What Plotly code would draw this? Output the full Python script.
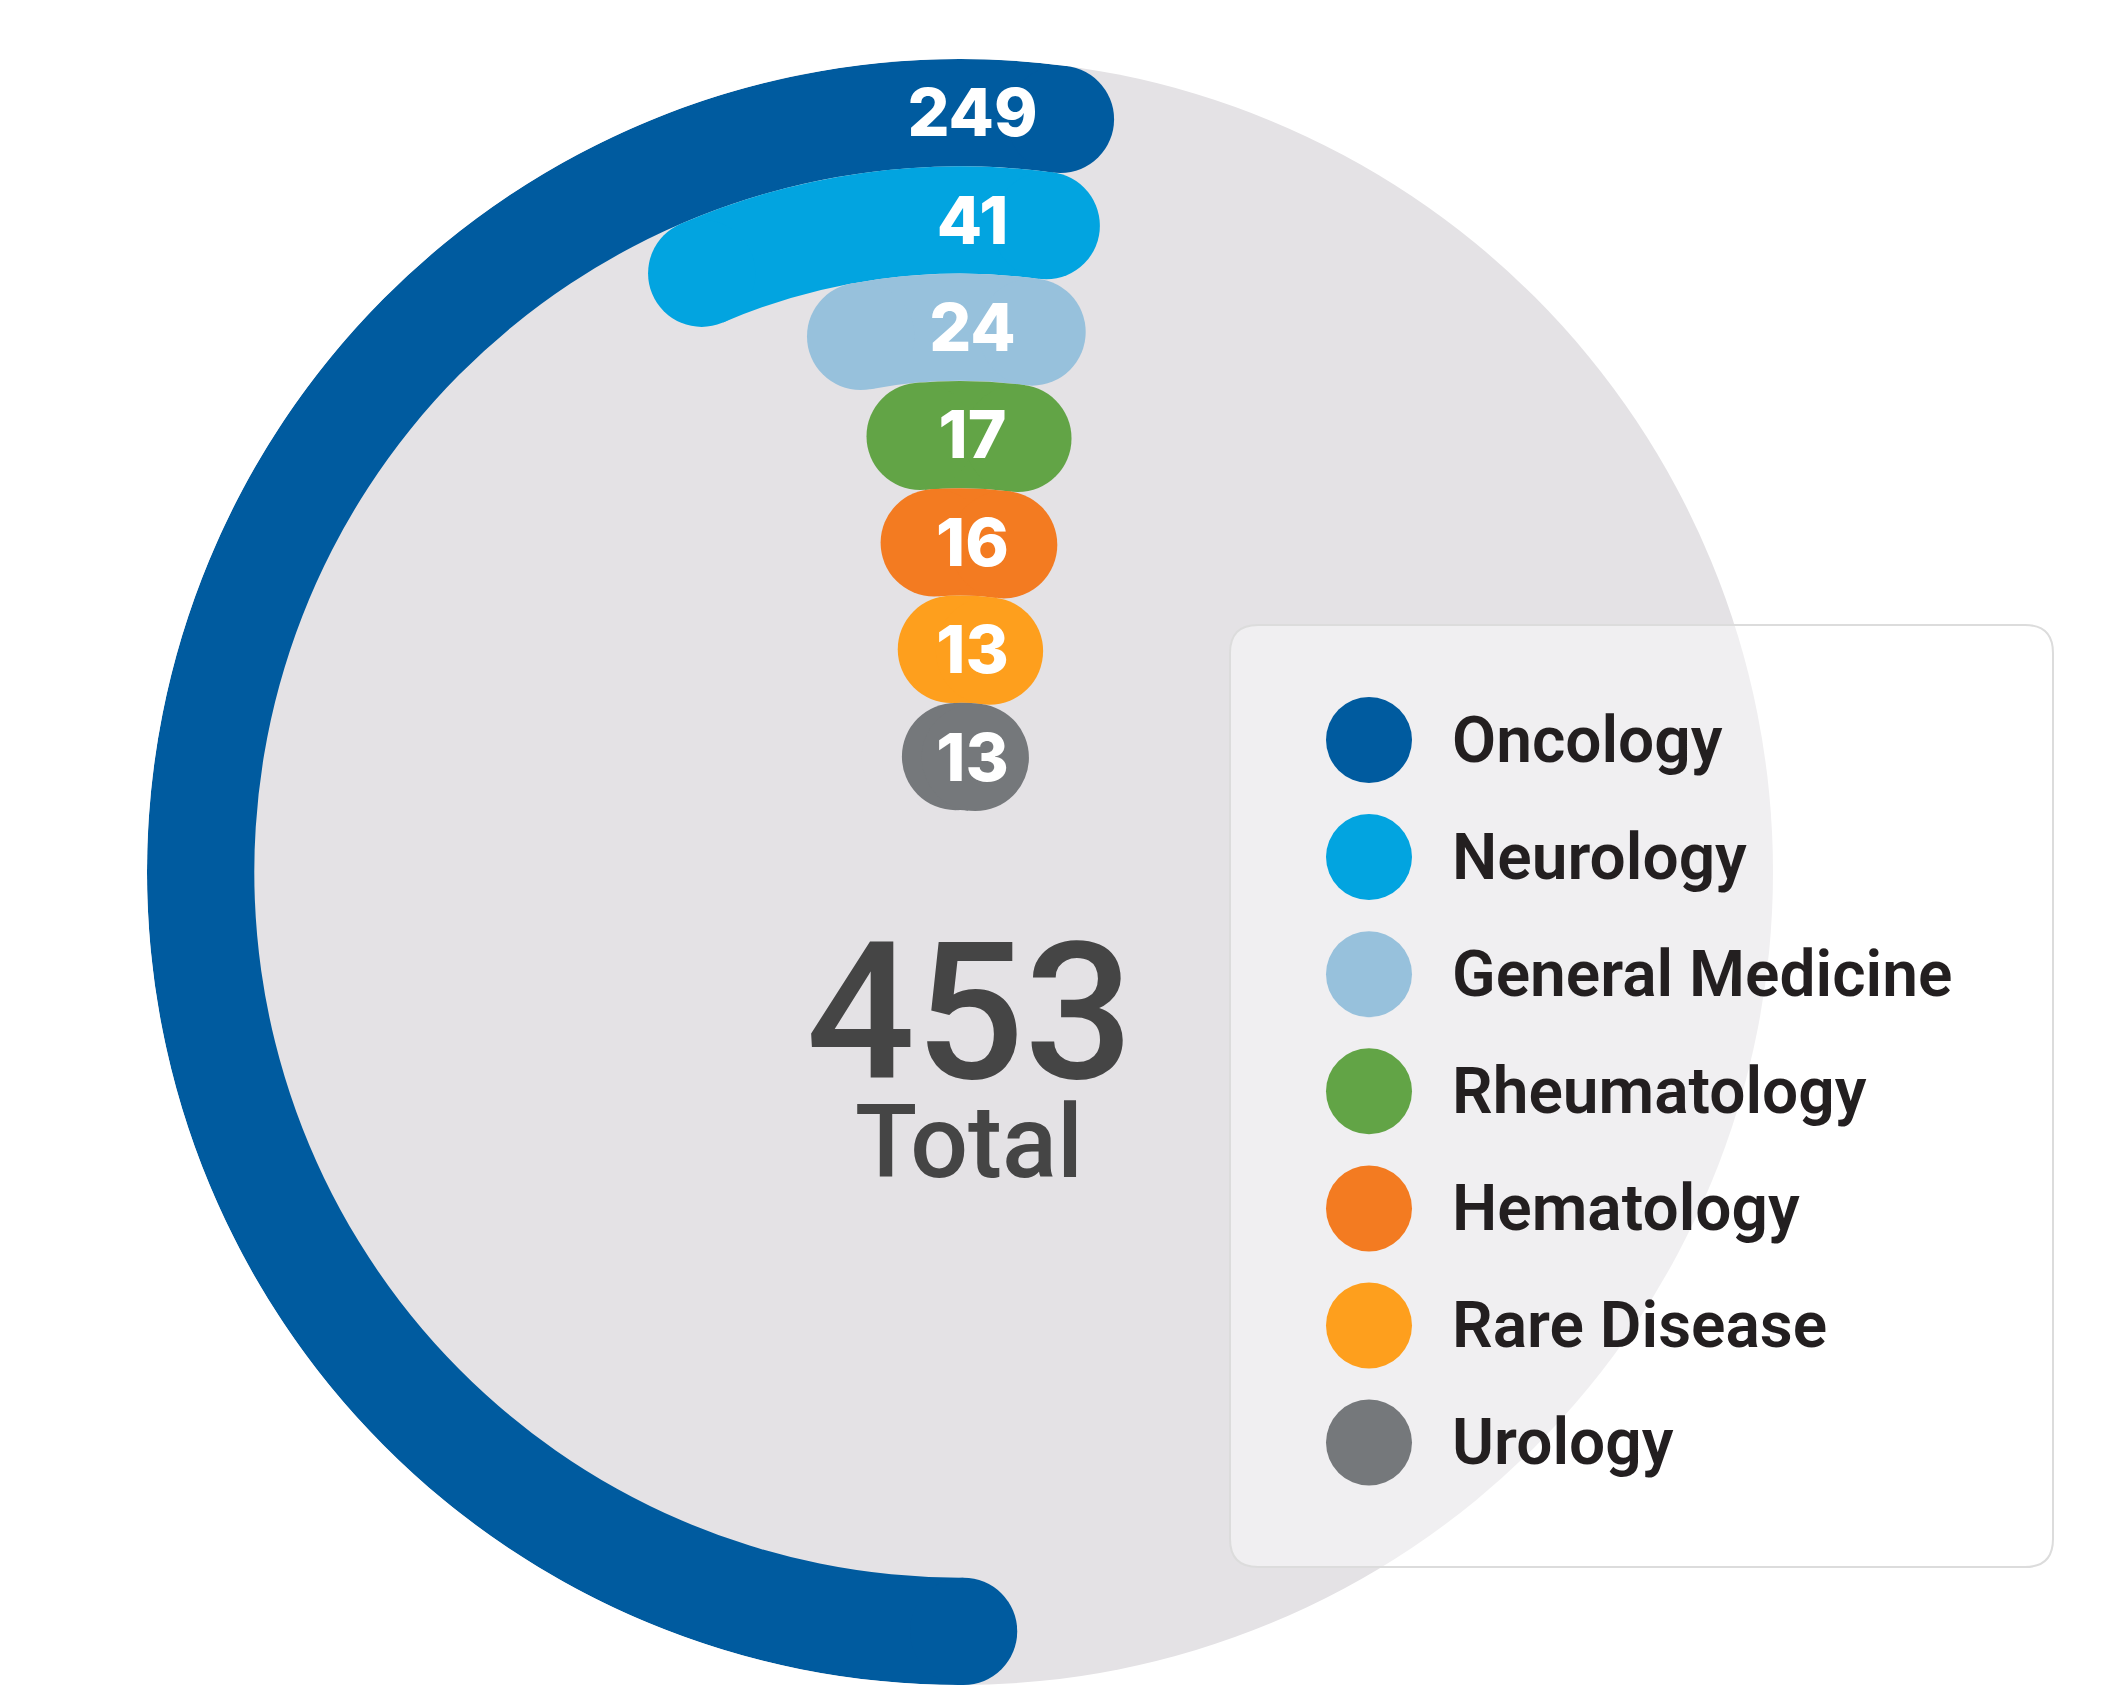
import math
import plotly.graph_objects as go

# ---------------- data ----------------
categories = ["Oncology", "Neurology", "General Medicine", "Rheumatology",
              "Hematology", "Rare Disease", "Urology"]
values = [249, 41, 24, 17, 16, 13, 13]
colors = ["#005B9F", "#02A4E0", "#97C1DC", "#62A446", "#F37B21", "#FE9F1D", "#75787B"]
total_value = 453          # as printed in the chart centre
total_label = "Total"

# ---------------- geometry / style ----------------
W, H = 2120, 1705
OFF = 8                                # page body margin compensation (px)


def px_x(x):
    return (x - OFF) / W


def px_y(y):
    return 1 - (y - OFF) / H


CX, CY, R_PX = 960, 872, 813          # polar centre / radius (px, as seen on page)
BAND_PX = 107.3                        # band thickness (px)
R_MAX = R_PX / BAND_PX                 # radial range in band units
INNER = R_MAX - len(categories)        # empty space in the middle
END_DEG = 7.6                          # where every bar ends (clockwise from top)
DEG_PER_UNIT = 0.7545                  # angular scale
LABEL_DX_PX = 12.5
LABEL_DR = 0.065                       # nudge labels a bit down (band units)

polar_dom_x = [px_x(CX - R_PX), px_x(CX + R_PX)]
polar_dom_y = [px_y(CY + R_PX), px_y(CY - R_PX)]

fig = go.Figure()

n = len(categories)
bar_traces, cap_traces, label_traces = [], [], []
for i, (cat, v, col) in enumerate(zip(categories, values, colors)):
    k = n - 1 - i
    base = INNER + k
    span = v * DEG_PER_UNIT
    start = END_DEG - span
    mid_r = base + 0.5
    bar_traces.append(go.Barpolar(
        r=[1], base=[base], theta=[(END_DEG - span / 2) % 360], width=[span],
        marker=dict(color=col, line=dict(width=0)), name=cat, showlegend=False,
        hoverinfo="skip"))
    cap_traces.append(go.Scatterpolar(
        r=[mid_r, mid_r], theta=[start % 360, END_DEG], mode="markers",
        marker=dict(size=BAND_PX, color=col, line=dict(width=0)),
        showlegend=False, hoverinfo="skip"))
    lab_r = mid_r - LABEL_DR
    label_theta = math.degrees(math.asin((LABEL_DX_PX / BAND_PX) / lab_r))
    label_traces.append(go.Scatterpolar(
        r=[lab_r], theta=[label_theta], mode="text", text=[str(v)],
        textposition="middle center",
        textfont=dict(family="Inter", size=66, color="white", weight=800),
        showlegend=False, hoverinfo="skip"))

for t in bar_traces + cap_traces + label_traces:
    fig.add_trace(t)

# ---------------- legend (cartesian subplot) ----------------
LEG_X0, LEG_X1, LEG_Y0, LEG_Y1 = 1230, 2053, 625, 1567
leg_first, leg_step = 740, 117.1
leg_h = LEG_Y1 - LEG_Y0
y_top = -(leg_first - LEG_Y0) / leg_step
y_bot = (LEG_Y1 - leg_first) / leg_step
idx = list(range(n))
mx = (1369 - LEG_X0) / (LEG_X1 - LEG_X0)
tx = (1452 - LEG_X0) / (LEG_X1 - LEG_X0)

fig.add_trace(go.Scatter(
    x=[mx] * n, y=idx, mode="markers",
    marker=dict(size=86, color=colors, line=dict(width=0)),
    showlegend=False, hoverinfo="skip", cliponaxis=False))
fig.add_trace(go.Scatter(
    x=[tx] * n, y=[j + 0.05 for j in idx], mode="text", text=categories,
    textposition="middle right",
    textfont=dict(family="Roboto", size=64, color="#231F20", weight=600),
    showlegend=False, hoverinfo="skip", cliponaxis=False))

rx = 28 / (LEG_X1 - LEG_X0)
ry = 28 / leg_h
box_path = (f"M {rx},0 L {1-rx},0 Q 1,0 1,{ry} L 1,{1-ry} Q 1,1 {1-rx},1 "
            f"L {rx},1 Q 0,1 0,{1-ry} L 0,{ry} Q 0,0 {rx},0 Z")

fig.update_layout(
    width=W, height=H,
    margin=dict(l=0, r=0, t=0, b=0, pad=0),
    paper_bgcolor="white", plot_bgcolor="rgba(0,0,0,0)",
    showlegend=False,
    polar=dict(
        domain=dict(x=polar_dom_x, y=polar_dom_y),
        bgcolor="rgba(0,0,0,0)", hole=0,
        radialaxis=dict(range=[0, R_MAX], visible=False, showgrid=False),
        angularaxis=dict(rotation=90, direction="clockwise", visible=False,
                         showgrid=False, showline=False),
    ),
    xaxis=dict(domain=[px_x(LEG_X0), px_x(LEG_X1)], range=[0, 1], visible=False,
               fixedrange=True),
    yaxis=dict(domain=[px_y(LEG_Y1), px_y(LEG_Y0)], range=[y_bot, y_top],
               visible=False, fixedrange=True),
    shapes=[
        dict(type="circle", xref="paper", yref="paper", layer="below",
             x0=polar_dom_x[0], x1=polar_dom_x[1], y0=polar_dom_y[0], y1=polar_dom_y[1],
             fillcolor="#E4E2E5", line=dict(width=0)),
        dict(type="path", xref="x domain", yref="y domain", layer="below",
             path=box_path, fillcolor="rgba(255,255,255,0.45)",
             line=dict(color="#DCDCDC", width=2)),
    ],
    annotations=[
        dict(text=str(total_value), x=px_x(969.7), y=px_y(1012), xref="paper", yref="paper",
             showarrow=False, xanchor="center", yanchor="middle",
             font=dict(family="Roboto", size=192, color="#454545", weight=500)),
        dict(text=total_label, x=px_x(969), y=px_y(1142), xref="paper", yref="paper",
             showarrow=False, xanchor="center", yanchor="middle",
             font=dict(family="Roboto", size=102, color="#454545", weight=500)),
    ],
)

fig.write_html("out.html")
